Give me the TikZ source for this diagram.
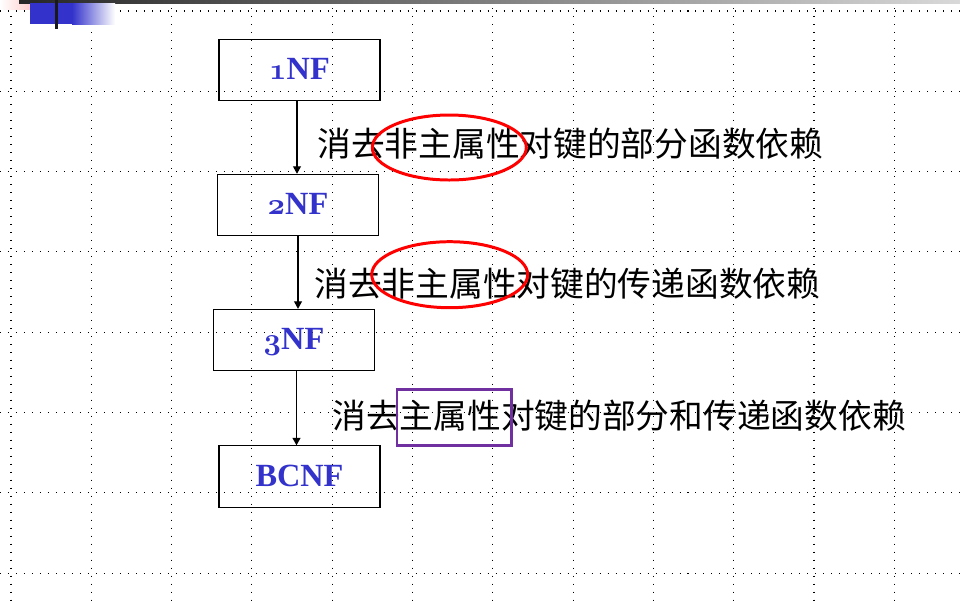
\documentclass[tikz,border=0pt]{standalone}
\usepackage{fontspec}
\newfontfamily\cjk{Noto Sans CJK SC}
\newfontfamily\nffont{Liberation Serif}
\usetikzlibrary{arrows.meta,positioning}
\definecolor{nfblue}{RGB}{51,51,204}
\definecolor{keypurple}{RGB}{112,48,160}
\newcommand\osnum[1]{{\fontencoding{OML}\fontfamily{cmm}\fontseries{b}\fontshape{it}\selectfont#1}}

\begin{document}
\begin{tikzpicture}[
  x=0.02cm, y=-0.02cm,
  node distance=1.45cm,
  nfbox/.style={draw, line width=0.6pt, minimum width=3.22cm, minimum height=1.23cm,
    text height=1.2em, text depth=0.08em, text=nfblue,
    font=\nffont\fontsize{18.4}{22}\selectfont\bfseries},
  rule/.style={inner sep=0pt, font=\cjk\fontsize{19.2}{22}\selectfont},
  arr/.style={-{Triangle[length=1.5mm, width=1.6mm]}, line width=0.6pt},
  gridline/.style={line width=0.6pt, dash pattern=on 0.57pt off 3.98pt},
  ring/.style={red, line width=1.7pt},
  keybox/.style={keypurple, line width=1.7pt}
]
\useasboundingbox (0,0) rectangle (960,600);
\fill[white] (0,0) rectangle (960,600);

\foreach \i in {0,...,11}
  \draw[gridline] (11+80.3*\i,0) -- (11+80.3*\i,600);
\foreach \j in {0,...,7}
  \draw[gridline] (0,11+80.3*\j) -- (960,11+80.3*\j);

\shade[left color=white, right color=red!30] (0,0) rectangle (47,9);
\shade[left color=black!85, right color=black!15] (19,0) rectangle (960,3);
\fill[nfblue] (30,3) rectangle (72,24);
\shade[left color=nfblue, right color=white] (72,3) rectangle (115,24);
\fill[black!90] (55,0) rectangle (58,29);

\node[nfbox] (one) at (299.5,70) {\osnum{1}NF};
\node[nfbox, below=of one, xshift=-0.03cm] (two) {\osnum{2}NF};
\node[nfbox, below=of two, xshift=-0.08cm] (three) {\osnum{3}NF};
\node[nfbox, below=of three, xshift=0.11cm, yshift=-0.03cm] (bcnf) {BCNF};

\draw[arr] ([xshift=-0.05cm]one.south) -- ([xshift=-0.05cm]one.south |- two.north);
\draw[arr] (two.south) -- (two.south |- three.north);
\draw[arr] ([xshift=0.05cm]three.south) -- ([xshift=0.05cm]three.south |- bcnf.north);

\node[rule, anchor=base west] (r1) at (317,156) {消去非主属性对键的部分函数依赖};
\node[rule, anchor=base west] (r2) at (314,296) {消去非主属性对键的传递函数依赖};
\node[rule, anchor=base west] (r3) at (332,428) {消去主属性对键的部分和传递函数依赖};

\draw[ring] (449.3,147.5) ellipse [x radius=77, y radius=32.5];
\draw[ring] (449.7,274.7) ellipse [x radius=78, y radius=33];
\draw[keybox] (397,389) rectangle (511.5,445.5);
\end{tikzpicture}
\end{document}
